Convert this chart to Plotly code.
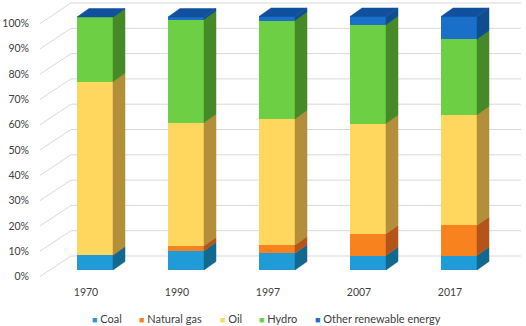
import plotly.graph_objects as go

# ---------------- data ----------------
years = ["1970", "1990", "1997", "2007", "2017"]
series_names = ["Coal", "Natural gas", "Oil", "Hydro", "Other renewable energy"]
coal = [5.9, 7.6, 6.6, 5.7, 5.7]
natural_gas = [0.0, 2.0, 3.3, 8.6, 12.0]
oil = [68.5, 48.6, 49.8, 43.6, 43.6]
hydro = [25.6, 40.8, 38.9, 39.0, 29.9]
other_renewable = [0.0, 1.0, 1.6, 3.3, 9.0]
y_ticks = [0, 10, 20, 30, 40, 50, 60, 70, 80, 90, 100]

series_values = [coal, natural_gas, oil, hydro, other_renewable]

# ---------------- style ----------------
front_colors = ["#1F9BD7", "#F7821E", "#FFD75E", "#6CCF44", "#1A70C8"]
side_colors = ["#12698F", "#B45418", "#B38F3A", "#458A26", "#0F4D8E"]
top_color = "#10509C"
grid_color = "#D9D9D9"
text_color = "#404040"
FONT = "Lato"

W, H = 526, 326
L, R, T, B = 30, 521, 0, 284          # plot area in px
PX_X = 91.0                            # px per category
PX_Y = 2.53                            # px per percent
X0_PX = 95.0                           # px of first category centre
Y0_PX = 270.0                          # px of 0% at bar front

x_range = [(L - X0_PX) / PX_X, (R - X0_PX) / PX_X]
y_range = [(Y0_PX - B) / PX_Y, (Y0_PX - T) / PX_Y]

BAR_W = 36 / PX_X
DX = 12 / PX_X          # bar depth (x)
DY = 8.5 / PX_Y         # bar depth (y)
BACK_DY = 14 / PX_Y     # back wall offset
FRONT_DY = -6.5 / PX_Y  # front axis offset
FRONT_X = (40 - X0_PX) / PX_X
BACK_X = (71 - X0_PX) / PX_X
LABEL_DX = -9 / PX_X

positions = list(range(len(years)))

fig = go.Figure()

# front faces
for name, vals, col in zip(series_names, series_values, front_colors):
    fig.add_trace(go.Bar(x=positions, y=vals, name=name, width=BAR_W,
                         marker=dict(color=col, line=dict(width=0)),
                         showlegend=False))

# side faces
cum = [0.0] * len(years)
for name, vals, col in zip(series_names, series_values, side_colors):
    xs, ys = [], []
    for i, v in enumerate(vals):
        y0, y1 = cum[i], cum[i] + v
        xr = positions[i] + BAR_W / 2
        xs += [xr, xr + DX, xr + DX, xr, xr, None]
        ys += [y0, y0 + DY, y1 + DY, y1, y0, None]
        cum[i] = y1
    fig.add_trace(go.Scatter(x=xs, y=ys, mode="lines", fill="toself",
                             fillcolor=col, line=dict(color=col, width=0.5),
                             hoverinfo="skip", showlegend=False))

# top faces
xs, ys = [], []
for i, tot in enumerate(cum):
    xl = positions[i] - BAR_W / 2
    xr = positions[i] + BAR_W / 2
    xs += [xl, xr, xr + DX, xl + DX, xl, None]
    ys += [tot, tot, tot + DY, tot + DY, tot, None]
fig.add_trace(go.Scatter(x=xs, y=ys, mode="lines", fill="toself",
                         fillcolor=top_color, line=dict(color=top_color, width=0.5),
                         hoverinfo="skip", showlegend=False))

# gridlines (back wall + left diagonal)
shapes = []
for v in y_ticks:
    shapes.append(dict(type="line", xref="x", yref="y", layer="below",
                       x0=BACK_X, y0=v + BACK_DY, x1=x_range[1], y1=v + BACK_DY,
                       line=dict(color=grid_color, width=1)))
    shapes.append(dict(type="line", xref="x", yref="y", layer="below",
                       x0=FRONT_X, y0=v + FRONT_DY, x1=BACK_X, y1=v + BACK_DY,
                       line=dict(color=grid_color, width=1)))

# legend as annotations
legend_px = [90, 137, 218, 257, 313]
LEG_Y = 318
annotations = []
for name, col, px in zip(series_names, front_colors, legend_px):
    annotations.append(dict(
        xref="paper", yref="paper",
        x=(px - L) / (R - L), y=-(LEG_Y - B) / (B - T),
        xanchor="left", yanchor="middle", showarrow=False,
        text=f'<span style="color:{col};font-size:9px">■</span> {name}',
        font=dict(family=FONT, size=11, color=text_color)))

fig.update_layout(
    width=W, height=H,
    margin=dict(l=L, r=W - R, t=T, b=H - B, pad=0),
    paper_bgcolor="white", plot_bgcolor="white",
    barmode="stack", bargap=0,
    font=dict(family=FONT, size=10.5, color=text_color),
    shapes=shapes, annotations=annotations,
    xaxis=dict(range=x_range, showgrid=False, zeroline=False, showline=False,
               tickmode="array", tickvals=[p + LABEL_DX for p in positions],
               ticktext=years, ticks="", fixedrange=True),
    yaxis=dict(range=y_range, showgrid=False, zeroline=False, showline=False,
               tickmode="array", tickvals=[v + FRONT_DY for v in y_ticks],
               ticktext=[f"{v}%" for v in y_ticks], ticks="", fixedrange=True),
)

fig.write_html("out.html", config={"displayModeBar": False},
               post_script="document.body.style.margin='0px';")
